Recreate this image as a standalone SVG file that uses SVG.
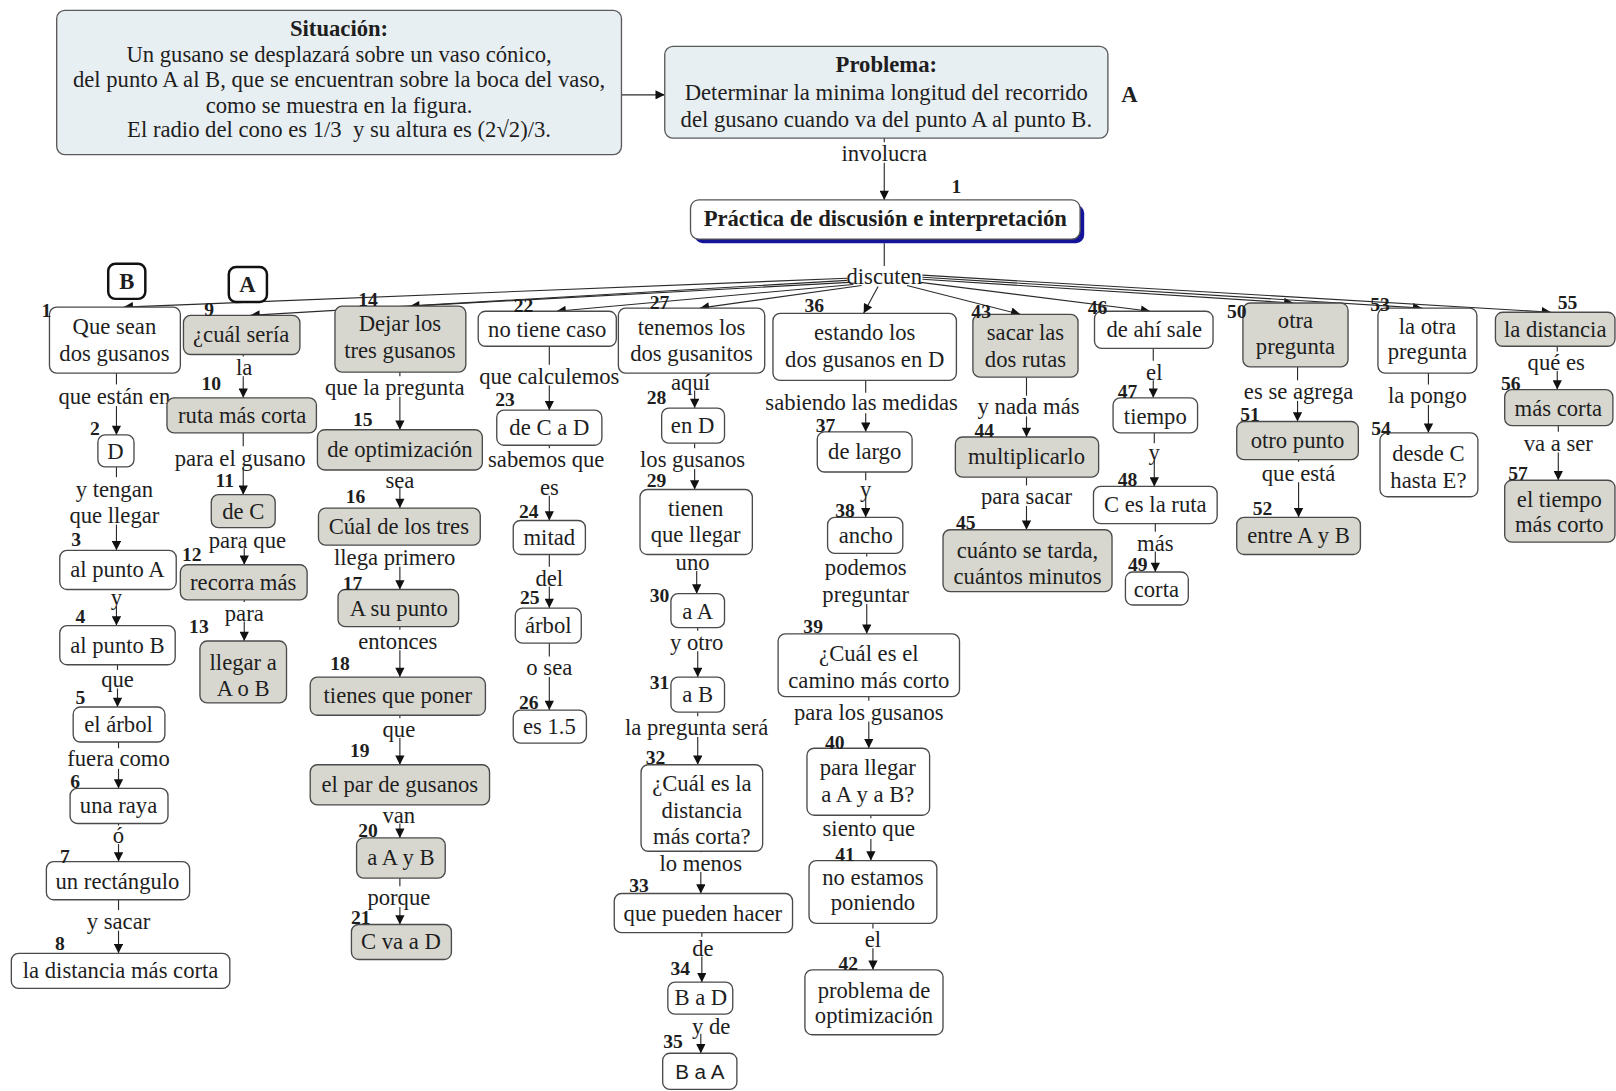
<svg xmlns="http://www.w3.org/2000/svg" width="1616" height="1091" viewBox="0 0 1616 1091">
<style>
text{font-family:"Liberation Serif","Times New Roman",serif;font-size:22px;fill:#1e1e1e;text-anchor:middle;dominant-baseline:central}
.w{fill:#fff;stroke:#4a4a4a;stroke-width:1.3}
.g{fill:#d7d7cf;stroke:#4a4a4a;stroke-width:1.3}
.h{fill:#e8eff2;stroke:#5a5a5a;stroke-width:1.3}
.b{font-weight:bold}
.num{font-weight:bold;font-size:19px}
.sans{font-family:"Liberation Sans",Arial,sans-serif;font-size:20px}
.c{fill:none;stroke:#2a2a2a;stroke-width:1.1}
.a{marker-end:url(#ah)}
.tag{fill:#fff;stroke:#111;stroke-width:2.4}
</style>
<defs>
<marker id="ah" viewBox="0 0 10 10" refX="10" refY="5" markerWidth="10" markerHeight="9" orient="auto" markerUnits="userSpaceOnUse">
<path d="M0,0 L10,5 L0,10 z" fill="#111"/>
</marker>
</defs>
<rect width="1616" height="1091" fill="#fff"/>
<g transform="scale(1.030612)">

<!-- connectors -->
<g id="connectors">
<path class="c a" d="M603,92 H645"/>
<path class="c" d="M858,134 V138"/>
<path class="c a" d="M858,158 V194"/>
<path class="c" d="M858,236 V258"/>
<!-- fan from "discuten" -->
<path class="c a" d="M822,270 L120,298"/>
<path class="c a" d="M822,272 L243,306"/>
<path class="c a" d="M824,274 L398,297"/>
<path class="c a" d="M828,276 L540,302"/>
<path class="c a" d="M836,277 L679,299"/>
<path class="c a" d="M852,278 L838,304"/>
<path class="c a" d="M880,277 L990,305"/>
<path class="c a" d="M893,274 L1116,302"/>
<path class="c a" d="M895,271 L1255,294"/>
<path class="c a" d="M895,269 L1380,299"/>
<path class="c a" d="M895,267 L1505,303"/>
<!-- column 1 -->
<path class="c" d="M113,362 V373"/><path class="c a" d="M113,394 V422"/>
<path class="c" d="M113,453 V463"/><path class="c a" d="M113,509 V534"/>
<path class="c a" d="M113,588 V607"/>
<path class="c" d="M114,645 V650"/><path class="c a" d="M114,668 V686"/>
<path class="c" d="M115,720 V726"/><path class="c a" d="M115,746 V765"/>
<path class="c" d="M115,799 V801"/><path class="c a" d="M115,819 V836"/>
<path class="c" d="M115,873 V883"/><path class="c a" d="M115,903 V925"/>
<!-- column 2 -->
<path class="c" d="M236,344 V346"/><path class="c a" d="M236,365 V386"/>
<path class="c" d="M236,420 V433"/><path class="c a" d="M236,454 V480"/>
<path class="c a" d="M237,532 V548"/>
<path class="c" d="M237,582 V584"/><path class="c a" d="M237,603 V622"/>
<!-- column 3 -->
<path class="c" d="M388,361 V365"/><path class="c a" d="M388,385 V417"/>
<path class="c a" d="M388,473 V493"/>
<path class="c a" d="M388,550 V572"/>
<path class="c" d="M388,608 V611"/><path class="c a" d="M388,631 V657"/>
<path class="c" d="M388,694 V697"/><path class="c a" d="M388,716 V742"/>
<path class="c a" d="M388,799 V813"/>
<path class="c" d="M388,852 V860"/><path class="c a" d="M388,880 V897"/>
<!-- column 4 -->
<path class="c" d="M533,336 V354"/><path class="c a" d="M533,374 V398"/>
<path class="c" d="M533,432 V435"/><path class="c a" d="M533,481 V505"/>
<path class="c" d="M533,538 V550"/><path class="c a" d="M533,569 V590"/>
<path class="c" d="M533,624 V637"/><path class="c a" d="M533,657 V689"/>
<!-- column 5 -->
<path class="c a" d="M674,379 V396"/>
<path class="c" d="M674,430 V435"/><path class="c a" d="M674,455 V475"/>
<path class="c a" d="M676,554 V576"/>
<path class="c" d="M677,609 V612"/><path class="c a" d="M677,632 V657"/>
<path class="c" d="M677,691 V695"/><path class="c a" d="M677,715 V742"/>
<path class="c" d="M680,826 V827"/><path class="c a" d="M680,846 V867"/>
<path class="c" d="M681,905 V909"/><path class="c a" d="M681,928 V953"/>
<path class="c a" d="M680,1003 V1022"/>
<!-- column 6 -->
<path class="c" d="M840,369 V381"/><path class="c a" d="M840,401 V419"/>
<path class="c" d="M840,458 V466"/><path class="c a" d="M840,482 V502"/>
<path class="c" d="M841,537 V540"/><path class="c a" d="M841,586 V615"/>
<path class="c" d="M843,676 V680"/><path class="c a" d="M843,700 V726"/>
<path class="c" d="M845,791 V794"/><path class="c a" d="M845,814 V835"/>
<path class="c" d="M847,896 V901"/><path class="c a" d="M847,920 V941"/>
<!-- column 7 -->
<path class="c" d="M996,366 V384"/><path class="c a" d="M996,404 V424"/>
<path class="c" d="M996,463 V471"/><path class="c a" d="M996,491 V514"/>
<!-- column 8 -->
<path class="c" d="M1119,338 V350"/><path class="c a" d="M1119,369 V386"/>
<path class="c" d="M1120,420 V430"/><path class="c a" d="M1120,446 V472"/>
<path class="c" d="M1121,508 V516"/><path class="c a" d="M1121,535 V555"/>
<!-- column 9 -->
<path class="c" d="M1259,356 V369"/><path class="c a" d="M1259,389 V409"/>
<path class="c" d="M1260,446 V448"/><path class="c a" d="M1260,468 V502"/>
<!-- column 10 -->
<path class="c" d="M1386,362 V373"/><path class="c a" d="M1386,393 V420"/>
<!-- column 11 -->
<path class="c" d="M1511,336 V341"/><path class="c a" d="M1511,360 V378"/>
<path class="c" d="M1512,413 V419"/><path class="c a" d="M1512,439 V466"/>
</g>

<!-- linking phrases -->
<g id="link-phrases">
<text x="858" y="149">involucra</text>
<text x="858" y="268">discuten</text>
<text x="111" y="385">que están en</text>
<text x="111" y="475">y tengan</text><text x="111" y="500">que llegar</text>
<text x="113" y="580">y</text>
<text x="114" y="659">que</text>
<text x="115" y="736">fuera como</text>
<text x="115" y="811">ó</text>
<text x="115" y="894">y sacar</text>
<text x="237" y="357">la</text>
<text x="233" y="445">para el gusano</text>
<text x="240" y="524">para que</text>
<text x="237" y="595">para</text>
<text x="383" y="376">que la pregunta</text>
<text x="388" y="466">sea</text>
<text x="383" y="541">llega primero</text>
<text x="386" y="622">entonces</text>
<text x="387" y="708">que</text>
<text x="387" y="791">van</text>
<text x="387" y="871">porque</text>
<text x="533" y="365">que calculemos</text>
<text x="530" y="446">sabemos que</text>
<text x="533" y="473">es</text>
<text x="533" y="561">del</text>
<text x="533" y="648">o sea</text>
<text x="670" y="371">aquí</text>
<text x="672" y="446">los gusanos</text>
<text x="672" y="546">uno</text>
<text x="676" y="623">y otro</text>
<text x="676" y="706">la pregunta será</text>
<text x="680" y="838">lo menos</text>
<text x="682" y="920">de</text>
<text x="690" y="996">y de</text>
<text x="836" y="391">sabiendo las medidas</text>
<text x="840" y="475">y</text>
<text x="840" y="551">podemos</text><text x="840" y="577">preguntar</text>
<text x="843" y="691">para los gusanos</text>
<text x="843" y="804">siento que</text>
<text x="847" y="912">el</text>
<text x="998" y="394">y nada más</text>
<text x="996" y="482">para sacar</text>
<text x="1120" y="361">el</text>
<text x="1120" y="439">y</text>
<text x="1121" y="527">más</text>
<text x="1260" y="380">es se agrega</text>
<text x="1260" y="459">que está</text>
<text x="1385" y="384">la pongo</text>
<text x="1510" y="352">qué es</text>
<text x="1512" y="430">va a ser</text>
</g>

<!-- header concepts -->
<g id="situacion">
<rect class="h" x="55" y="10" width="548" height="140" rx="8"/>
<text class="b" x="329" y="28">Situación:</text>
<text x="329" y="53">Un gusano se desplazará sobre un vaso cónico,</text>
<text x="329" y="77">del punto A al B, que se encuentran sobre la boca del vaso,</text>
<text x="329" y="102">como se muestra en la figura.</text>
<text x="329" y="126" xml:space="preserve">El radio del cono es 1/3  y su altura es (2√2)/3.</text>
</g>
<g id="problema">
<rect class="h" x="645" y="45" width="430" height="89" rx="8"/>
<text class="b" x="860" y="63">Problema:</text>
<text x="860" y="90">Determinar la minima longitud del recorrido</text>
<text x="860" y="116">del gusano cuando va del punto A al punto B.</text>
<text class="b" x="1096" y="92">A</text>
</g>
<g id="practica">
<rect x="674" y="199" width="378" height="37" rx="8" fill="#14149a"/>
<rect x="670" y="194" width="378" height="38" rx="8" fill="#fff" stroke="#555" stroke-width="1.3"/>
<text class="b" x="859" y="212">Práctica de discusión e interpretación</text>
<text class="num" x="928" y="181">1</text>
</g>
<g id="tag-b"><rect class="tag" x="105" y="256" width="36" height="34" rx="7"/><text class="b" x="123" y="273">B</text></g>
<g id="tag-a"><rect class="tag" x="222" y="259" width="37" height="34" rx="7"/><text class="b" x="240" y="276">A</text></g>

<!-- column 1 -->
<g id="c1"><rect class="w" x="48" y="298" width="127" height="64" rx="7"/><text x="111" y="317">Que sean</text><text x="111" y="343">dos gusanos</text><text class="num" x="45" y="301">1</text></g>
<g id="c2"><rect class="w" x="95" y="422" width="35" height="31" rx="7"/><text x="112" y="438">D</text><text class="num" x="92" y="416">2</text></g>
<g id="c3"><rect class="w" x="58" y="534" width="113" height="38" rx="7"/><text x="114" y="553">al punto A</text><text class="num" x="74" y="523">3</text></g>
<g id="c4"><rect class="w" x="58" y="607" width="112" height="38" rx="7"/><text x="114" y="626">al punto B</text><text class="num" x="78" y="598">4</text></g>
<g id="c5"><rect class="w" x="71" y="686" width="89" height="34" rx="7"/><text x="115" y="703">el árbol</text><text class="num" x="78" y="677">5</text></g>
<g id="c6"><rect class="w" x="68" y="765" width="95" height="34" rx="7"/><text x="115" y="782">una raya</text><text class="num" x="73" y="758">6</text></g>
<g id="c7"><rect class="w" x="45" y="836" width="139" height="37" rx="7"/><text x="114" y="855">un rectángulo</text><text class="num" x="63" y="831">7</text></g>
<g id="c8"><rect class="w" x="11" y="925" width="212" height="34" rx="7"/><text x="117" y="942">la distancia más corta</text><text class="num" x="58" y="915">8</text></g>

<!-- column 2 -->
<g id="c9"><rect class="g" x="178" y="306" width="113" height="38" rx="7"/><text x="234" y="325">¿cuál sería</text><text class="num" x="203" y="300">9</text></g>
<g id="c10"><rect class="g" x="162" y="386" width="145" height="34" rx="7"/><text x="235" y="403">ruta más corta</text><text class="num" x="205" y="372">10</text></g>
<g id="c11"><rect class="g" x="205" y="480" width="62" height="32" rx="7"/><text x="236" y="496">de C</text><text class="num" x="218" y="466">11</text></g>
<g id="c12"><rect class="g" x="175" y="548" width="123" height="34" rx="7"/><text x="236" y="565">recorra más</text><text class="num" x="186" y="538">12</text></g>
<g id="c13"><rect class="g" x="194" y="622" width="84" height="60" rx="7"/><text x="236" y="643">llegar a</text><text x="236" y="668">A o B</text><text class="num" x="193" y="608">13</text></g>

<!-- column 3 -->
<g id="c14"><rect class="g" x="325" y="297" width="127" height="64" rx="7"/><text x="388" y="314">Dejar los</text><text x="388" y="340">tres gusanos</text><text class="num" x="357" y="291">14</text></g>
<g id="c15"><rect class="g" x="308" y="417" width="160" height="39" rx="7"/><text x="388" y="436">de optimización</text><text class="num" x="352" y="407">15</text></g>
<g id="c16"><rect class="g" x="309" y="493" width="157" height="36" rx="7"/><text x="387" y="511">Cúal de los tres</text><text class="num" x="345" y="482">16</text></g>
<g id="c17"><rect class="g" x="328" y="572" width="117" height="36" rx="7"/><text x="387" y="590">A su punto</text><text class="num" x="342" y="566">17</text></g>
<g id="c18"><rect class="g" x="301" y="657" width="170" height="37" rx="7"/><text x="386" y="675">tienes que poner</text><text class="num" x="330" y="644">18</text></g>
<g id="c19"><rect class="g" x="301" y="742" width="174" height="39" rx="7"/><text x="388" y="761">el par de gusanos</text><text class="num" x="349" y="728">19</text></g>
<g id="c20"><rect class="g" x="346" y="813" width="86" height="39" rx="7"/><text x="389" y="832">a A y B</text><text class="num" x="357" y="806">20</text></g>
<g id="c21"><rect class="g" x="341" y="897" width="97" height="34" rx="7"/><text x="389" y="914">C va a D</text><text class="num" x="350" y="890">21</text></g>

<!-- column 4 -->
<g id="c22"><rect class="w" x="464" y="302" width="134" height="34" rx="7"/><text x="531" y="320">no tiene caso</text><text class="num" x="508" y="296">22</text></g>
<g id="c23"><rect class="w" x="482" y="398" width="102" height="34" rx="7"/><text x="533" y="415">de C a D</text><text class="num" x="490" y="388">23</text></g>
<g id="c24"><rect class="w" x="498" y="505" width="70" height="33" rx="7"/><text x="533" y="522">mitad</text><text class="num" x="513" y="496">24</text></g>
<g id="c25"><rect class="w" x="500" y="590" width="64" height="34" rx="7"/><text x="532" y="607">árbol</text><text class="num" x="514" y="580">25</text></g>
<g id="c26"><rect class="w" x="498" y="689" width="71" height="32" rx="7"/><text x="533" y="705">es 1.5</text><text class="num" x="513" y="682">26</text></g>

<!-- column 5 -->
<g id="c27"><rect class="w" x="600" y="299" width="142" height="63" rx="7"/><text x="671" y="318">tenemos los</text><text x="671" y="343">dos gusanitos</text><text class="num" x="640" y="294">27</text></g>
<g id="c28"><rect class="w" x="642" y="396" width="61" height="34" rx="7"/><text x="672" y="413">en D</text><text class="num" x="637" y="386">28</text></g>
<g id="c29"><rect class="w" x="621" y="475" width="109" height="63" rx="7"/><text x="675" y="493">tienen</text><text x="675" y="519">que llegar</text><text class="num" x="637" y="466">29</text></g>
<g id="c30"><rect class="w" x="651" y="576" width="52" height="33" rx="7"/><text x="677" y="593">a A</text><text class="num" x="640" y="578">30</text></g>
<g id="c31"><rect class="w" x="651" y="657" width="52" height="34" rx="7"/><text x="677" y="674">a B</text><text class="num" x="640" y="662">31</text></g>
<g id="c32"><rect class="w" x="622" y="742" width="118" height="84" rx="7"/><text x="681" y="760">¿Cuál es la</text><text x="681" y="786">distancia</text><text x="681" y="812">más corta?</text><text class="num" x="636" y="735">32</text></g>
<g id="c33"><rect class="w" x="596" y="867" width="173" height="38" rx="7"/><text x="682" y="886">que pueden hacer</text><text class="num" x="620" y="859">33</text></g>
<g id="c34"><rect class="w" x="648" y="953" width="63" height="31" rx="7"/><text x="680" y="968">B a D</text><text class="num" x="660" y="940">34</text></g>
<g id="c35"><rect class="w" x="643" y="1022" width="72" height="35" rx="7"/><text class="sans" x="679" y="1040">B a A</text><text class="num" x="653" y="1011">35</text></g>

<!-- column 6 -->
<g id="c36"><rect class="w" x="750" y="304" width="178" height="65" rx="7"/><text x="839" y="323">estando los</text><text x="839" y="349">dos gusanos en D</text><text class="num" x="790" y="296">36</text></g>
<g id="c37"><rect class="w" x="793" y="419" width="92" height="39" rx="7"/><text x="839" y="438">de largo</text><text class="num" x="801" y="413">37</text></g>
<g id="c38"><rect class="w" x="803" y="502" width="73" height="35" rx="7"/><text x="840" y="520">ancho</text><text class="num" x="820" y="495">38</text></g>
<g id="c39"><rect class="w" x="755" y="615" width="176" height="61" rx="7"/><text x="843" y="634">¿Cuál es el</text><text x="843" y="660">camino más corto</text><text class="num" x="789" y="608">39</text></g>
<g id="c40"><rect class="w" x="783" y="726" width="119" height="65" rx="7"/><text x="842" y="745">para llegar</text><text x="842" y="771">a A y a B?</text><text class="num" x="810" y="720">40</text></g>
<g id="c41"><rect class="w" x="785" y="835" width="124" height="61" rx="7"/><text x="847" y="851">no estamos</text><text x="847" y="876">poniendo</text><text class="num" x="820" y="829">41</text></g>
<g id="c42"><rect class="w" x="781" y="941" width="134" height="63" rx="7"/><text x="848" y="961">problema de</text><text x="848" y="985">optimización</text><text class="num" x="823" y="935">42</text></g>

<!-- column 7 -->
<g id="c43"><rect class="g" x="944" y="305" width="102" height="61" rx="7"/><text x="995" y="323">sacar las</text><text x="995" y="349">dos rutas</text><text class="num" x="952" y="302">43</text></g>
<g id="c44"><rect class="g" x="927" y="424" width="139" height="39" rx="7"/><text x="996" y="443">multiplicarlo</text><text class="num" x="955" y="418">44</text></g>
<g id="c45"><rect class="g" x="915" y="514" width="164" height="60" rx="7"/><text x="997" y="534">cuánto se tarda,</text><text x="997" y="559">cuántos minutos</text><text class="num" x="937" y="507">45</text></g>

<!-- column 8 -->
<g id="c46"><rect class="w" x="1062" y="302" width="115" height="36" rx="7"/><text x="1120" y="320">de ahí sale</text><text class="num" x="1065" y="298">46</text></g>
<g id="c47"><rect class="w" x="1080" y="386" width="82" height="34" rx="7"/><text x="1121" y="404">tiempo</text><text class="num" x="1094" y="380">47</text></g>
<g id="c48"><rect class="w" x="1061" y="472" width="120" height="36" rx="7"/><text x="1121" y="490">C es la ruta</text><text class="num" x="1094" y="465">48</text></g>
<g id="c49"><rect class="w" x="1092" y="555" width="61" height="32" rx="7"/><text x="1122" y="572">corta</text><text class="num" x="1104" y="548">49</text></g>

<!-- column 9 -->
<g id="c50"><rect class="g" x="1206" y="294" width="102" height="62" rx="7"/><text x="1257" y="311">otra</text><text x="1257" y="336">pregunta</text><text class="num" x="1200" y="302">50</text></g>
<g id="c51"><rect class="g" x="1200" y="409" width="118" height="37" rx="7"/><text x="1259" y="427">otro punto</text><text class="num" x="1213" y="402">51</text></g>
<g id="c52"><rect class="g" x="1200" y="502" width="120" height="36" rx="7"/><text x="1260" y="520">entre A y B</text><text class="num" x="1225" y="493">52</text></g>

<!-- column 10 -->
<g id="c53"><rect class="w" x="1337" y="299" width="96" height="63" rx="7"/><text x="1385" y="317">la otra</text><text x="1385" y="341">pregunta</text><text class="num" x="1339" y="295">53</text></g>
<g id="c54"><rect class="w" x="1339" y="420" width="95" height="62" rx="7"/><text x="1386" y="440">desde C</text><text x="1386" y="466">hasta E?</text><text class="num" x="1340" y="416">54</text></g>

<!-- column 11 -->
<g id="c55"><rect class="g" x="1451" y="303" width="116" height="33" rx="7"/><text x="1509" y="320">la distancia</text><text class="num" x="1521" y="294">55</text></g>
<g id="c56"><rect class="g" x="1460" y="378" width="105" height="35" rx="7"/><text x="1512" y="396">más corta</text><text class="num" x="1466" y="372">56</text></g>
<g id="c57"><rect class="g" x="1460" y="466" width="107" height="60" rx="7"/><text x="1513" y="485">el tiempo</text><text x="1513" y="509">más corto</text><text class="num" x="1473" y="459">57</text></g>

</g>
</svg>
